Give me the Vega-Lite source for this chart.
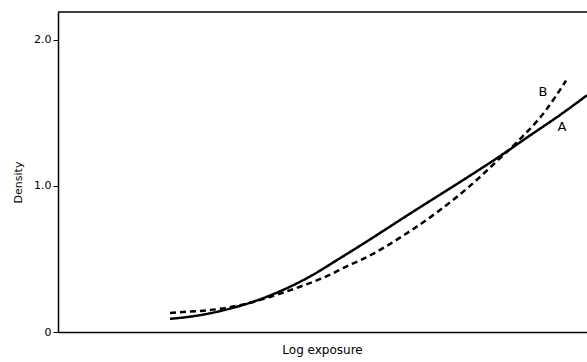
{
  "$schema": "https://vega.github.io/schema/vega-lite/v6.json",
  "width": 529,
  "height": 320,
  "autosize": {"type": "none"},
  "padding": {"left": 58, "top": 12, "right": 0, "bottom": 30},
  "background": "white",
  "config": {
    "view": {"stroke": null},
    "font": "DejaVu Sans",
    "axis": {"domainColor": "black", "domainWidth": 1.5, "tickColor": "black", "labelColor": "black", "titleColor": "black", "grid": false}
  },
  "datasets": {
    "curves": [
      {"logE": 1.12, "density": 0.09, "curve": "A"},
      {"logE": 1.32, "density": 0.105, "curve": "A"},
      {"logE": 1.52, "density": 0.128, "curve": "A"},
      {"logE": 1.72, "density": 0.16, "curve": "A"},
      {"logE": 1.92, "density": 0.20, "curve": "A"},
      {"logE": 2.12, "density": 0.25, "curve": "A"},
      {"logE": 2.32, "density": 0.31, "curve": "A"},
      {"logE": 2.52, "density": 0.38, "curve": "A"},
      {"logE": 2.82, "density": 0.505, "curve": "A"},
      {"logE": 3.02, "density": 0.59, "curve": "A"},
      {"logE": 3.52, "density": 0.81, "curve": "A"},
      {"logE": 4.12, "density": 1.07, "curve": "A"},
      {"logE": 4.39, "density": 1.19, "curve": "A"},
      {"logE": 4.72, "density": 1.345, "curve": "A"},
      {"logE": 5.02, "density": 1.485, "curve": "A"},
      {"logE": 5.29, "density": 1.62, "curve": "A"},
      {"logE": 1.12, "density": 0.13, "curve": "B"},
      {"logE": 1.32, "density": 0.14, "curve": "B"},
      {"logE": 1.52, "density": 0.15, "curve": "B"},
      {"logE": 1.72, "density": 0.17, "curve": "B"},
      {"logE": 1.92, "density": 0.20, "curve": "B"},
      {"logE": 2.12, "density": 0.24, "curve": "B"},
      {"logE": 2.42, "density": 0.31, "curve": "B"},
      {"logE": 2.65, "density": 0.37, "curve": "B"},
      {"logE": 2.92, "density": 0.46, "curve": "B"},
      {"logE": 3.02, "density": 0.49, "curve": "B"},
      {"logE": 3.52, "density": 0.69, "curve": "B"},
      {"logE": 4.12, "density": 1.00, "curve": "B"},
      {"logE": 4.39, "density": 1.17, "curve": "B"},
      {"logE": 4.62, "density": 1.32, "curve": "B"},
      {"logE": 4.87, "density": 1.51, "curve": "B"},
      {"logE": 5.08, "density": 1.72, "curve": "B"}
    ],
    "labels": [
      {"logE": 5.04, "density": 1.40, "text": "A"},
      {"logE": 4.85, "density": 1.64, "text": "B"}
    ]
  },
  "layer": [
    {
      "data": {"name": "curves"},
      "mark": {"type": "line", "interpolate": "monotone", "color": "black", "strokeWidth": 2.5, "clip": true},
      "encoding": {
        "x": {"field": "logE", "type": "quantitative", "scale": {"domain": [0, 5.29], "nice": false, "zero": false},
          "axis": {"title": "Log exposure", "labels": false, "ticks": false, "titlePadding": 12, "titleFontSize": 12, "titleFontWeight": "normal", "titleX": 264}},
        "y": {"field": "density", "type": "quantitative", "scale": {"domain": [0, 2.19], "nice": false},
          "axis": {"title": "Density", "values": [0, 1, 2], "labelExpr": "datum.value == 0 ? '0' : format(datum.value, '.1f')", "tickSize": 5, "labelPadding": 2, "labelFontSize": 11, "titleFontSize": 11, "titleFontWeight": "normal", "titlePadding": 10, "titleY": 170}},
        "strokeDash": {"field": "curve", "type": "nominal", "scale": {"domain": ["A", "B"], "range": [[1, 0], [6, 4]]}, "legend": null}
      }
    },
    {
      "data": {"name": "labels"},
      "mark": {"type": "text", "fontSize": 13, "color": "black", "font": "DejaVu Sans"},
      "encoding": {
        "x": {"field": "logE", "type": "quantitative"},
        "y": {"field": "density", "type": "quantitative"},
        "text": {"field": "text"}
      }
    },
    {
      "data": {"values": [{}]},
      "mark": {"type": "rule", "color": "black", "strokeWidth": 1.5},
      "encoding": {"y": {"datum": 2.19}}
    }
  ]
}
